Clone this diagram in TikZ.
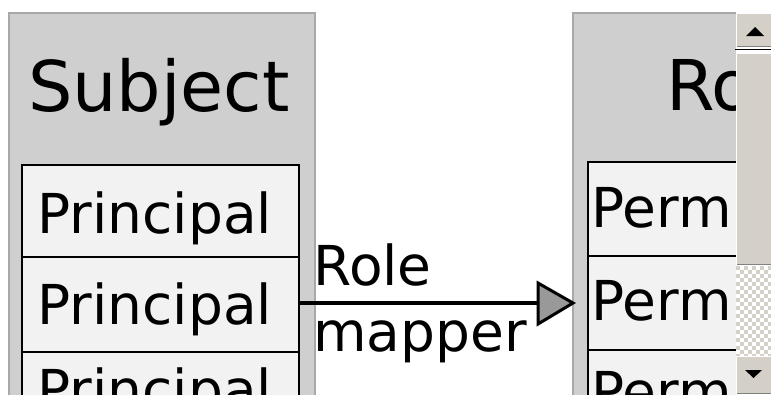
\documentclass[tikz,border=0pt]{standalone}
\usepackage{fontspec}
\setmainfont{DejaVu Sans}
\definecolor{outerfill}{HTML}{CFCFCF}
\definecolor{outerline}{HTML}{A8A8A8}
\definecolor{innerfill}{HTML}{F2F2F2}
\definecolor{headfill}{HTML}{999999}
\definecolor{sbface}{HTML}{D4D0C8}
\definecolor{sbdark}{HTML}{808080}
\tikzset{
  outerbox/.style={draw=outerline, fill=outerfill, line width=2pt},
  innerbox/.style={draw=black, fill=innerfill, line width=1.6pt},
  bodytext/.style={anchor=base west, inner sep=0pt, font=\fontsize{55}{62}\selectfont},
  titletext/.style={anchor=base, inner sep=0pt, font=\fontsize{70}{80}\selectfont},
  sbbutton/.style={fill=sbface, draw=none},
  conn/.style={line width=4pt, draw=black}
}
\begin{document}
\begin{tikzpicture}[x=1pt,y=-1pt]
\useasboundingbox (0,0) rectangle (771,394);
\fill[white] (0,0) rectangle (771,394);
\clip (0,0) rectangle (771,394);
% left class box
\draw[outerbox] (9,13) rectangle (315,420);
\node[titletext] (subj) at (159,111) {Subject};
\draw[innerbox] (22,165) rectangle (299,257);
\draw[innerbox] (22,257) rectangle (299,352);
\draw[innerbox] (22,352) rectangle (299,446);
\coordinate (p2r) at (299,303);
\node[bodytext] (pr1) at (37.5,233) {Principal};
\node[bodytext] (pr2) at (37.5,324) {Principal};
\node[bodytext] (pr3) at (37.5,409) {Principal};
% right class box (clipped by scrollbar)
\begin{scope}
\clip (0,0) rectangle (736,394);
\draw[outerbox] (573,13) rectangle (900,420);
\node[titletext, anchor=base west] (roles) at (666,110) {Ro};
\draw[innerbox] (588,162) rectangle (900,256);
\draw[innerbox] (588,256) rectangle (900,350);
\draw[innerbox] (588,350) rectangle (900,444);
\node[bodytext] (pm1) at (591.5,227) {Perm};
\node[bodytext] (pm2) at (591.5,320) {Perm};
\node[bodytext] (pm3) at (591.5,411) {Perm};
\end{scope}
\coordinate (rolel) at (573,303);
% connector
\coordinate (headbase) at (538,303);
\draw[conn] (p2r) -- (headbase);
\draw[line width=3pt, fill=headfill, line join=miter] (538,283) -- (rolel) -- (538,324) -- cycle;
\node[bodytext] (lab1) at (313,285) {Role};
\node[bodytext] (lab2) at (313,351) {mapper};
% scrollbar
\fill[white] (736,0) rectangle (771,394);
% up button
\fill[sbbutton] (736,13) rectangle (771,47);
\draw[white, line width=1pt] (736.5,47) -- (736.5,13.5) -- (771,13.5);
\draw[sbdark, line width=1pt] (737,46.5) -- (771,46.5);
\fill[black] (746,36) -- (755,27) -- (764,36) -- cycle;
\draw[black, line width=1pt] (735,49.5) -- (771,49.5);
% thumb
\fill[sbbutton] (736,53) rectangle (771,265);
\draw[white, line width=1pt] (736.5,265) -- (736.5,53.5) -- (771,53.5);
\draw[sbdark, line width=1pt] (737,264.5) -- (771,264.5);
% track checker
\fill[white] (736,266) rectangle (771,356);
\foreach \i in {0,...,8} {
  \foreach \j in {0,...,22} {
    \pgfmathtruncatemacro{\parity}{mod(\i+\j,2)}
    \ifnum\parity=0
      \fill[sbface] (736+4*\i,266+4*\j) rectangle (740+4*\i,270+4*\j);
    \fi
  }
}
% down button
\fill[sbbutton] (736,356) rectangle (771,394);
\draw[white, line width=1pt] (736.5,394) -- (736.5,356.5) -- (771,356.5);
\draw[sbdark, line width=1pt] (737,393.5) -- (771,393.5);
\fill[black] (745,370) -- (762,370) -- (753.5,378) -- cycle;
\end{tikzpicture}
\end{document}
